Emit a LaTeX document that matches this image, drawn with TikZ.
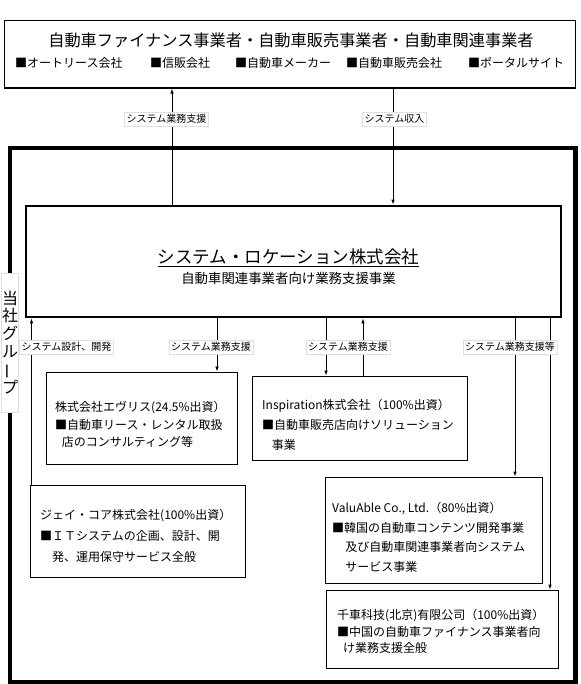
\documentclass[tikz,border=0pt]{standalone}
\usepackage{fontspec}
\setmainfont{Noto Sans CJK JP}
\usepackage{graphicx}
\usetikzlibrary{arrows.meta}
\begin{document}
\begin{tikzpicture}[x=1pt,y=-1pt,
  conn/.style={line width=0.9pt},
  arr/.style={line width=0.9pt,-{Latex[length=5pt,width=3.6pt]}},
  lbl/.style={font=\fontsize{10}{10}\selectfont, fill=white, draw=gray!25, line width=0.4pt, inner xsep=2pt, inner ysep=2.5pt},
  subbox/.style={draw, line width=0.9pt, inner sep=0pt},
  subtext/.style={anchor=west, align=left, inner sep=0pt, font=\fontsize{12}{#1}\selectfont},
  item/.style={anchor=west, inner sep=0pt, font=\fontsize{12}{12}\selectfont},
]
\useasboundingbox (0,0) rectangle (580,684);

% top box
\node[draw, line width=1.1pt, minimum width=571, minimum height=67.5, inner sep=0pt] (top) at (290,54.25) {};
\node[inner sep=0pt, font=\fontsize{16.2}{16.2}\selectfont] (toptitle) at (291,40) {自動車ファイナンス事業者・自動車販売事業者・自動車関連事業者};
\node[item] (it1) at (15,63) {■オートリース会社};
\node[item] (it2) at (150,63) {■信販会社};
\node[item] (it3) at (235,63) {■自動車メーカー};
\node[item] (it4) at (346,63) {■自動車販売会社};
\node[item] (it5) at (468,63) {■ポータルサイト};

% group box
\node[draw, line width=4.5pt, minimum width=565.5, minimum height=534, inner sep=0pt] (grpbox) at (292.75,415) {};

% main box
\node[draw, line width=2.8pt, minimum width=535, minimum height=111, inner sep=0pt] (main) at (293.5,261.5) {};
\node[inner sep=0pt, font=\fontsize{17.5}{17.5}\selectfont] (maintitle) at (288.5,258) {\underline{システム・ロケーション株式会社}};
\node[inner sep=0pt, font=\fontsize{13.4}{13.4}\selectfont] (mainsub) at (288.5,278) {自動車関連事業者向け業務支援事業};

% group label
\node[font=\fontsize{16}{17.6}\selectfont, align=center, inner sep=0pt, minimum width=17, minimum height=139, fill=white, draw=gray!25, line width=0.4pt] (grp) at (10,342.5) {当\\社\\グ\\ル\\\rotatebox[origin=c]{90}{ー}\\プ};

% sub boxes
\node[subbox, minimum width=191, minimum height=92] (evolis) at (141.5,418) {};
\node[subtext=17.5] (evolisT) at (55,424.5) {株式会社エヴリス(24.5\%出資）\\■自動車リース・レンタル取扱\\\hspace{0.55em}店のコンサルティング等};

\node[subbox, minimum width=215, minimum height=84] (insp) at (359.5,418) {};
\node[subtext=20] (inspT) at (262,425) {Inspiration株式会社（100\%出資）\\■自動車販売店向けソリューション\\\hspace{0.8em}事業};

\node[subbox, minimum width=215, minimum height=92] (jcore) at (137.5,531) {};
\node[subtext=21] (jcoreT) at (40,536) {ジェイ・コア株式会社(100\%出資）\\■ＩＴシステムの企画、設計、開\\\hspace{1em}発、運用保守サービス全般};

\node[subbox, minimum width=217, minimum height=106] (valu) at (433.5,530) {};
\node[subtext=19.7] (valuT) at (332,537.5) {ValuAble Co., Ltd.（80\%出資）\\■韓国の自動車コンテンツ開発事業\\\hspace{1.1em}及び自動車関連事業者向システム\\\hspace{1.1em}サービス事業};

\node[subbox, minimum width=232, minimum height=78] (china) at (442,629) {};
\node[subtext=16.5] (chinaT) at (337,631.5) {千車科技(北京)有限公司（100\%出資）\\■中国の自動車ファイナンス事業者向\\\hspace{0.5em}け業務支援全般};

% connector x positions
\coordinate (xa) at (172,0);
\coordinate (xb) at (393,0);
\coordinate (xc) at (31.5,0);
\coordinate (xd) at (217,0);
\coordinate (xe) at (326,0);
\coordinate (xf) at (363,0);
\coordinate (xg) at (515,0);
\coordinate (xh) at (550,0);

\draw[arr] (main.north -| xa) -- (top.south -| xa);
\draw[arr] (top.south -| xb) -- (main.north -| xb);
\draw[arr] (jcore.north -| xc) -- (main.south -| xc);
\draw[arr] (main.south -| xd) -- (evolis.north -| xd);
\draw[arr] (main.south -| xe) -- (insp.north -| xe);
\draw[arr] (insp.north -| xf) -- (main.south -| xf);
\draw[arr] (main.south -| xg) -- (valu.north -| xg);
\draw[arr] (main.south -| xh) -- (china.north -| xh);

% labels
\node[lbl] (l1) at (166.5,119) {システム業務支援};
\node[lbl] (l2) at (394.5,119) {システム収入};
\node[lbl] (l3) at (66.5,347) {システム設計、開発};
\node[lbl] (l4) at (211,347) {システム業務支援};
\node[lbl] (l5) at (348,347) {システム業務支援};
\node[lbl] (l6) at (510,347) {システム業務支援等};
\end{tikzpicture}
\end{document}
